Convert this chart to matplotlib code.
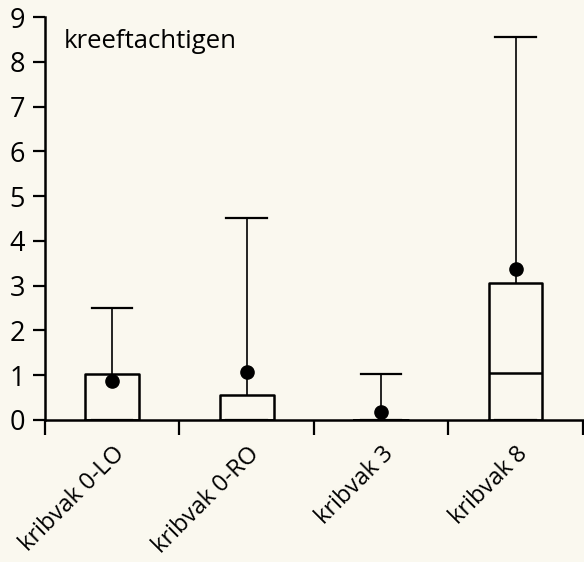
import matplotlib
matplotlib.use('Agg')
import matplotlib.pyplot as plt
from matplotlib.transforms import ScaledTranslation

plt.rcParams['font.family'] = ['Open Sans', 'DejaVu Sans']

# gegevens
categories = ['kribvak 0-LO', 'kribvak 0-RO', 'kribvak 3', 'kribvak 8']
q1 = [0, 0, 0, 0]
q3 = [1.02, 0.55, 0, 3.05]
medians = [0, 0, 0, 1.05]
whisk_hi = [2.5, 4.52, 1.02, 8.55]
means = [0.87, 1.07, 0.18, 3.38]

bg = '#faf8ef'
fig = plt.figure(figsize=(5.84, 5.62), dpi=100)
fig.patch.set_facecolor(bg)
ax = fig.add_axes([0.077, 0.2527, 0.921, 0.717])
ax.set_facecolor(bg)

stats = []
for name, lo, hi, med, wh, mu in zip(categories, q1, q3, medians, whisk_hi, means):
    stats.append(dict(label=name, q1=lo, q3=hi, med=med, whislo=lo, whishi=wh, mean=mu))

ax.bxp(stats, positions=range(len(categories)), widths=0.4, capwidths=0.3,
       showmeans=True, showfliers=False,
       boxprops=dict(color='black', linewidth=1.8),
       medianprops=dict(color='black', linewidth=1.8),
       whiskerprops=dict(color='black', linewidth=1.2),
       capprops=dict(color='black', linewidth=1.6),
       meanprops=dict(marker='o', markerfacecolor='black', markeredgecolor='black', markersize=9.5))

ax.set_xlim(-0.5, 3.5)
ax.set_ylim(0, 9)
for s in ['top', 'right']:
    ax.spines[s].set_visible(False)
for s in ['left', 'bottom']:
    ax.spines[s].set_linewidth(1.8)

ax.set_yticks(range(10))
ax.tick_params(axis='y', direction='out', length=8.5, width=1.6, labelsize=19.5, pad=6)

# grensstreepjes tussen de kribvakken, labels in het midden
ax.set_xticks([i - 0.5 for i in range(len(categories) + 1)])
ax.set_xticklabels([])
ax.tick_params(axis='x', which='major', direction='out', length=11, width=1.6)
ax.set_xticks(range(len(categories)), minor=True)
ax.set_xticklabels(categories, minor=True, rotation=45, ha='right', rotation_mode='anchor', fontsize=17)
ax.tick_params(axis='x', which='minor', length=0, pad=22)
shift = ScaledTranslation(9 / 100, 0, fig.dpi_scale_trans)
for t in ax.get_xticklabels(minor=True):
    t.set_va('center')
    t.set_transform(t.get_transform() + shift)

ax.text(-0.36, 8.45, 'kreeftachtigen', fontsize=18.5, ha='left', va='center')

fig.savefig('out.png', dpi=100, facecolor=bg)
